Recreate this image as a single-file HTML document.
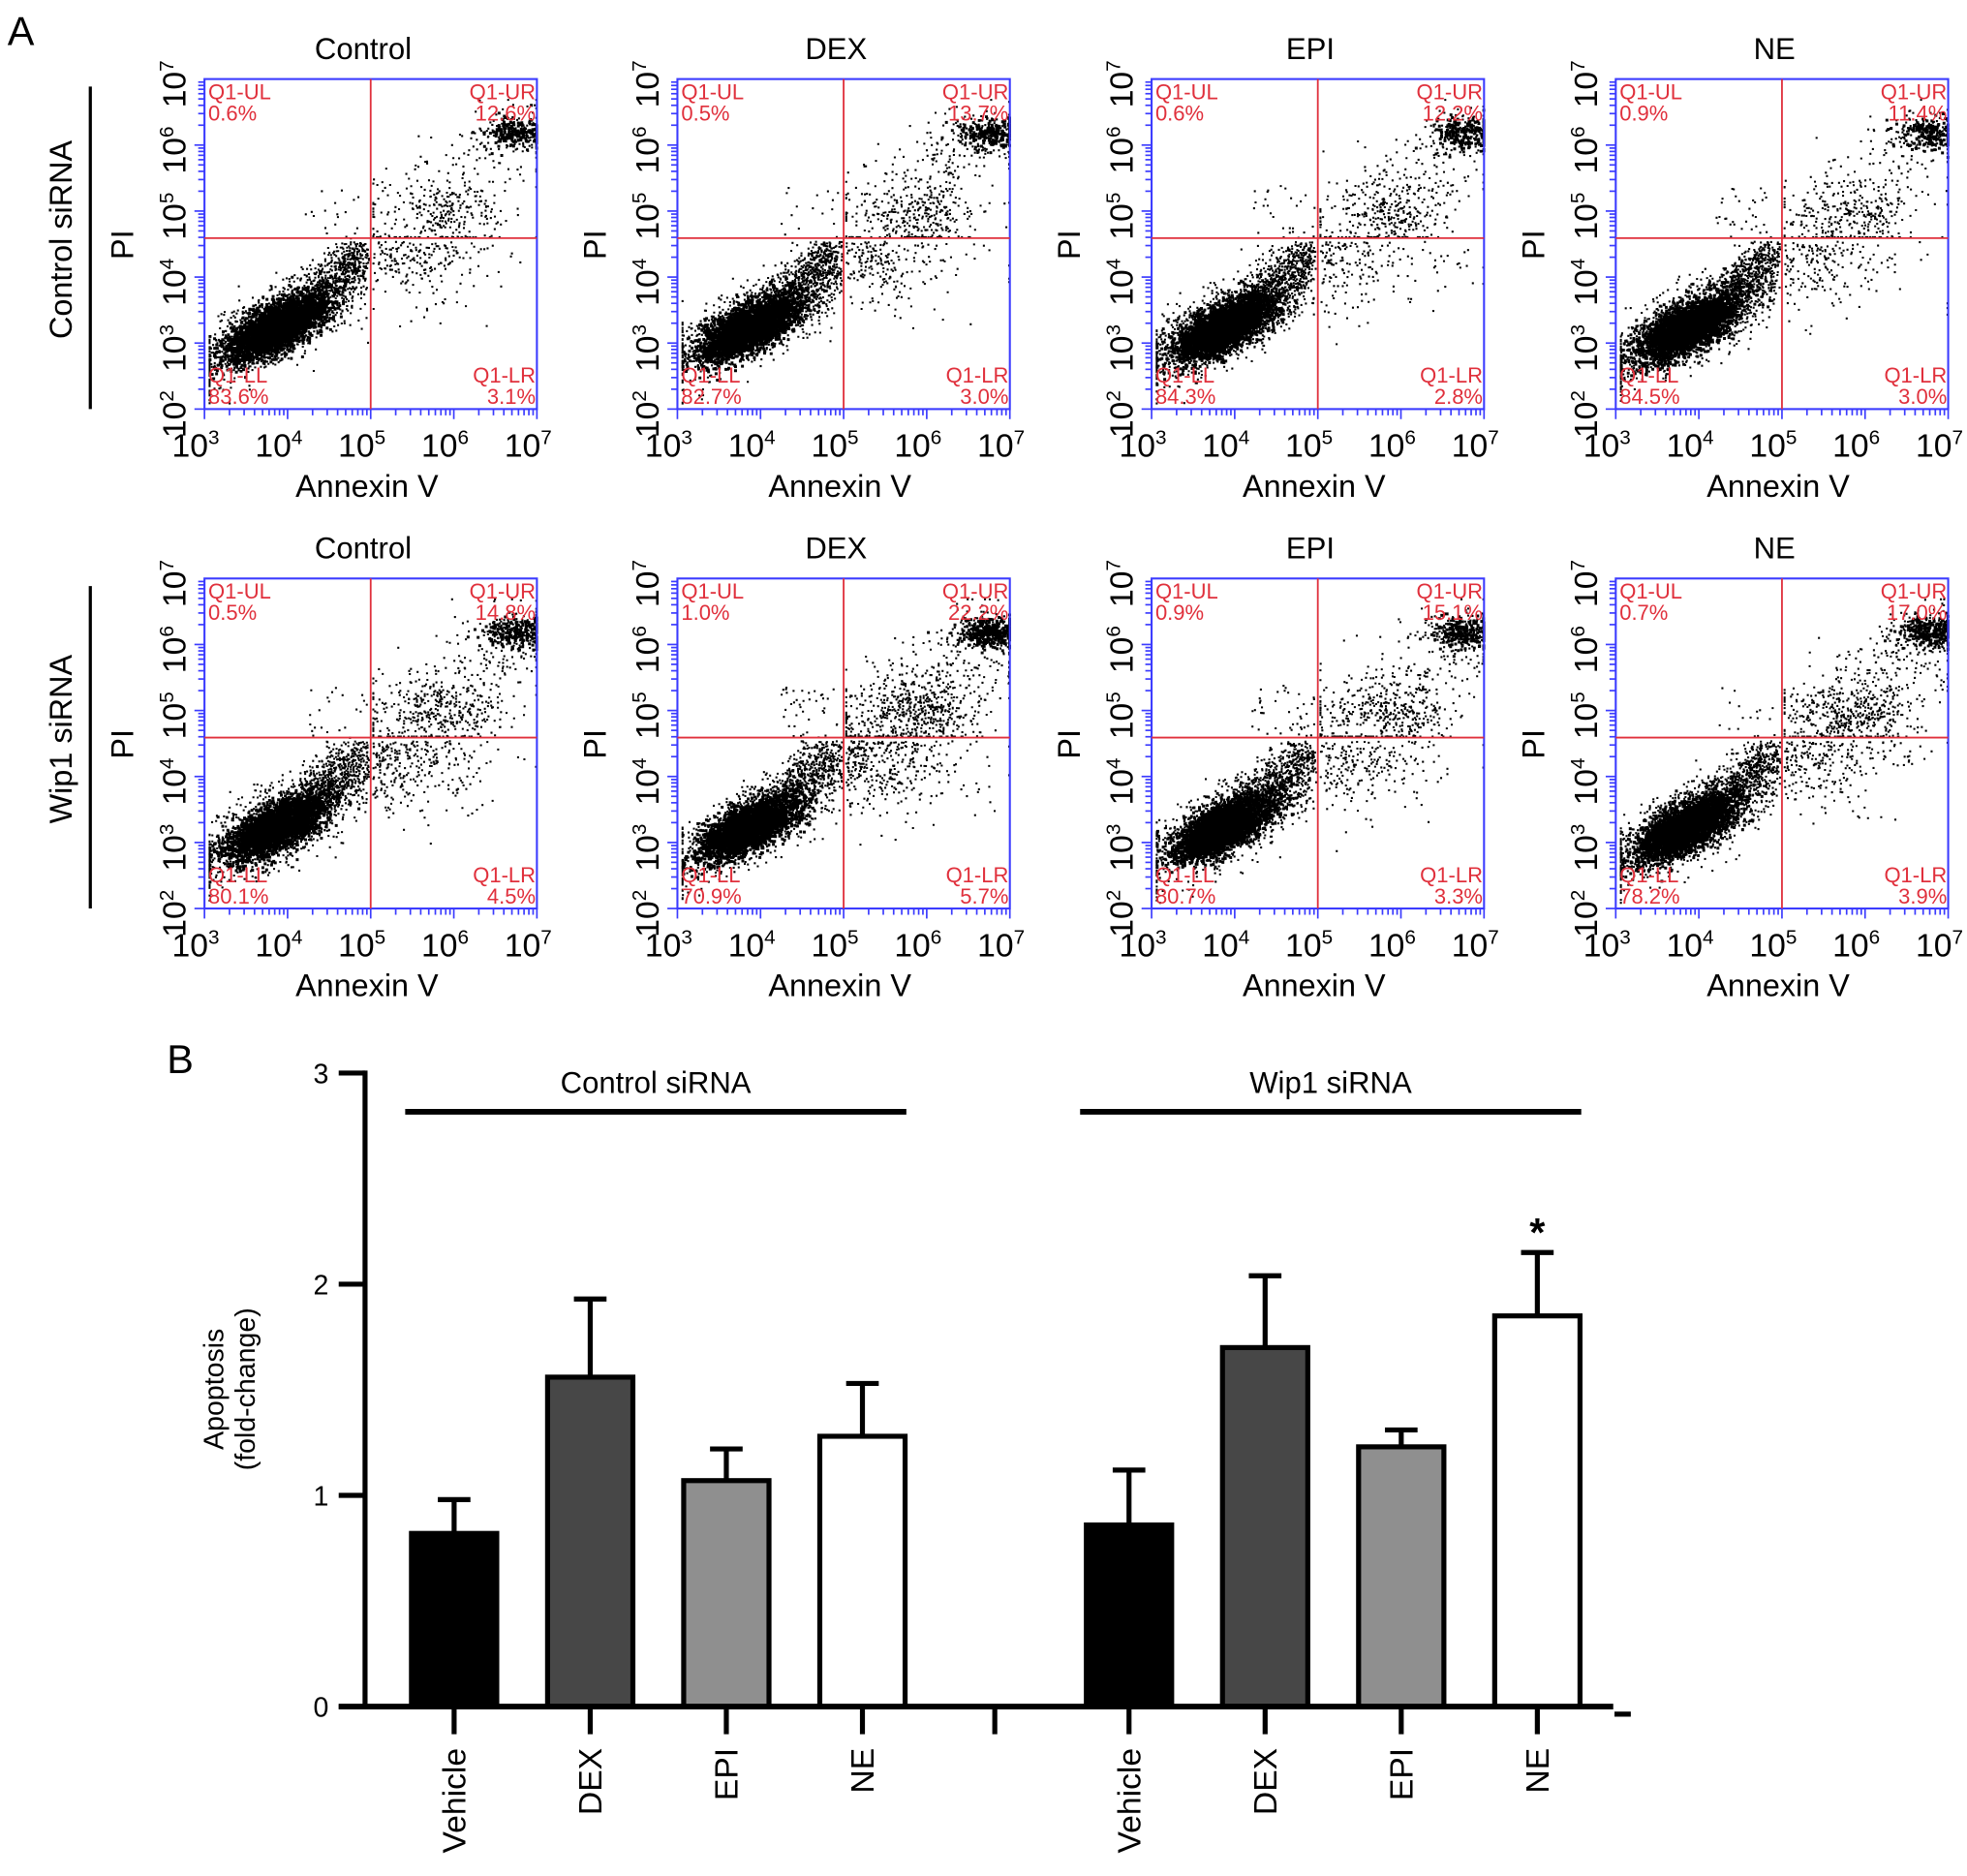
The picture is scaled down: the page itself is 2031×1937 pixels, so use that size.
<!DOCTYPE html>
<html><head><meta charset="utf-8">
<style>
html,body{margin:0;padding:0;background:#fff;}
svg{display:block;font-family:"Liberation Sans",Arial,sans-serif;}
</style></head>
<body>
<svg id="fig" width="2031" height="1937" viewBox="0 0 1568 1495" preserveAspectRatio="none" xmlns="http://www.w3.org/2000/svg">
<rect width="1568" height="1495" fill="#fff"/>
<text x="6" y="36" font-size="32">A</text>
<text x="133" y="855" font-size="32">B</text>
<g id="flow"></g>
<g id="bars"></g>
</svg>
<script>
// ---------- Panel A data ----------
const flowTitles = ["Control","DEX","EPI","NE"];
const rowLabels = ["Control siRNA","Wip1 siRNA"];
const pctUL = [[0.6,0.5,0.6,0.9],[0.5,1.0,0.9,0.7]];
const pctUR = [[12.6,13.7,12.2,11.4],[14.8,22.2,15.1,17.0]];
const pctLL = [[83.6,82.7,84.3,84.5],[80.1,70.9,80.7,78.2]];
const pctLR = [[3.1,3.0,2.8,3.0],[4.5,5.7,3.3,3.9]];
const xDecades = [3,4,5,6,7];
const yDecades = [2,3,4,5,6,7];
const gateX = 5, gateY = 4.59;

// ---------- Panel B data ----------
const categories = ["Vehicle","DEX","EPI","NE"];
const groups = ["Control siRNA","Wip1 siRNA"];
const meansControl = [0.82,1.56,1.07,1.28];
const errControl = [0.16,0.37,0.15,0.25];
const meansWip1 = [0.86,1.70,1.23,1.85];
const errWip1 = [0.26,0.34,0.08,0.30];
const yTicks = [0,1,2,3];
const barFills = ["#000000","#474747","#8f8f8f","#ffffff"];

const NS = "http://www.w3.org/2000/svg";
function mk(tag, attrs, parent){const e=document.createElementNS(NS,tag);for(const k in attrs)e.setAttribute(k,attrs[k]);parent.appendChild(e);return e;}

let seed = 12345;
function rnd(){seed|=0;seed=seed+0x6D2B79F5|0;let t=Math.imul(seed^seed>>>15,1|seed);t=t+Math.imul(t^t>>>7,61|t)^t;return ((t^t>>>14)>>>0)/4294967296;}
function gauss(){let u=rnd()||1e-9,v=rnd();return Math.sqrt(-2*Math.log(u))*Math.cos(2*Math.PI*v);}

const flow = document.getElementById('flow');
const panelLeft = [163,540,918,1288], rowTop = [63,461], PW=265, PH=263;
const RED="#e0303c", BLUE="#3b3bff";

function sup(t, base, exp){
  t.appendChild(document.createTextNode(base));
  const s=document.createElementNS(NS,'tspan');s.setAttribute('dy','-10');s.setAttribute('font-size','16');s.textContent=exp;t.appendChild(s);
}

for(let r=0;r<2;r++){
  const top=rowTop[r];
  const rl=mk('text',{x:0,y:0,'font-size':25,'text-anchor':'middle',transform:`translate(57,${top+128}) rotate(-90)`},flow);
  rl.textContent=rowLabels[r];
  
  
  const ln=mk('line',{x1:72,x2:72,y1:top+6,y2:top+263,stroke:'#000','stroke-width':2.5},flow);
  
  
  for(let c=0;c<4;c++){
    const L=panelLeft[c];
    const g=mk('g',{},flow);
    
    
    const X=lx=>L+(lx-3)/4*PW, Y=ly=>top+PH-(ly-2)/5*PH;
    const t=mk('text',{x:L+PW/2-6,y:top-16,'font-size':24,'text-anchor':'middle'},g);t.textContent=flowTitles[c];
    
    
    const N=6000;
    let d="", dCore="";
    const pL=pctLL[r][c],pR=pctLR[r][c],pU=pctUR[r][c];
    for(let i=0;i<N;i++){
      const u=rnd()*100;let lx,ly,core=false;
      if(u<pL){
        const k=rnd();
        if(k<0.6){const a=gauss()*0.33,b=gauss()*0.14;lx=3.85+a*0.8+b*0.6;ly=3.25+a*0.6-b*0.8;core=true;}
        else if(k<0.9){const a=gauss()*0.55,b=gauss()*0.22;lx=3.9+a*0.8+b*0.6;ly=3.3+a*0.6-b*0.8;}
        else{const s=rnd();lx=4.3+s*0.6+gauss()*0.15;ly=3.7+s*0.7+gauss()*0.18;}
        if(lx>4.97)lx=4.97-rnd()*0.3; if(ly>4.55)ly=4.55-rnd()*0.3;
      } else if(u<pL+pR){lx=5.02+Math.abs(gauss())*0.7;ly=4.55-Math.abs(gauss())*0.5;}
      else if(u<pL+pR+pU){
        const k=rnd();
        if(k<0.4){lx=6.75+gauss()*0.2;ly=6.2+gauss()*0.12;core=rnd()<0.5;}
        else if(k<0.7){lx=5.9+gauss()*0.35;ly=4.95+gauss()*0.25;}
        else{const s=rnd();lx=5+s*1.9+gauss()*0.3;ly=4.6+s*1.6+gauss()*0.35;}
        lx=Math.max(5.02,Math.min(lx,6.98));ly=Math.max(4.62,Math.min(ly,6.7));
      } else {if(rnd()<0.5)continue;lx=4.2+rnd()*0.75;ly=4.6+rnd()*0.8;}
      lx=Math.max(3.05,Math.min(6.98,lx));ly=Math.max(2.1,Math.min(6.95,ly));
      if(core) dCore+=`M${X(lx).toFixed(1)} ${Y(ly).toFixed(1)}h2.3v2.3h-2.3z`;
      else d+=`M${X(lx).toFixed(1)} ${Y(ly).toFixed(1)}h1.6v1.6h-1.6z`;
    }
    const dots=mk('path',{d:d,fill:'#000'},g);
    
    
    const dots2=mk('path',{d:dCore,fill:'#000'},g);
    
    
    mk('rect',{x:L,y:top,width:PW,height:PH,fill:'none',stroke:BLUE,'stroke-width':1.6},g);
    for(let dcd=3;dcd<7;dcd++)for(let m=1;m<10;m++){const x=X(dcd+Math.log10(m));mk('line',{x1:x,x2:x,y1:top+PH,y2:top+PH+(m==1?8:5),stroke:BLUE,'stroke-width':1.3},g);}
    mk('line',{x1:X(7),x2:X(7),y1:top+PH,y2:top+PH+8,stroke:BLUE,'stroke-width':1.3},g);
    for(let dcd=2;dcd<7;dcd++)for(let m=1;m<10;m++){const y=Y(dcd+Math.log10(m));mk('line',{x1:L,x2:L-(m==1?8:5),y1:y,y2:y,stroke:BLUE,'stroke-width':1.3},g);}
    mk('line',{x1:X(gateX),x2:X(gateX),y1:top,y2:top+PH,stroke:RED,'stroke-width':1.4},g);
    mk('line',{x1:L,x2:L+PW,y1:Y(gateY),y2:Y(gateY),stroke:RED,'stroke-width':1.4},g);
    const ql=[["Q1-UL",pctUL[r][c],L+3,top+16,'start'],["Q1-UR",pctUR[r][c],L+PW-1,top+16,'end'],["Q1-LL",pctLL[r][c],L+3,top+242,'start'],["Q1-LR",pctLR[r][c],L+PW-1,top+242,'end']];
    ql.forEach(q=>{
      const a=mk('text',{x:q[2],y:q[3],'font-size':17,fill:RED,'text-anchor':q[4]},g);a.textContent=q[0];
      
      
      const b=mk('text',{x:q[2],y:q[3]+17,'font-size':17,fill:RED,'text-anchor':q[4]},g);b.textContent=q[1].toFixed(1)+"%";
      
      
    });
    xDecades.forEach(dc=>{const tt=mk('text',{x:X(dc)-7,y:top+PH+38,'font-size':26,'text-anchor':'middle'},g);sup(tt,"10",String(dc));
      
      });
    yDecades.forEach(dc=>{const tt=mk('text',{x:0,y:0,'font-size':26,'text-anchor':'middle',transform:`translate(${L-15},${Y(dc)+4}) rotate(-90)`},g);sup(tt,"10",String(dc));
      
      });
    const xt=mk('text',{x:L+PW/2-3,y:top+PH+70,'font-size':25,'text-anchor':'middle'},g);xt.textContent="Annexin V";
    
    
    const yt=mk('text',{x:0,y:0,'font-size':25,'text-anchor':'middle',transform:`translate(${L-57},${top+132}) rotate(-90)`},g);yt.textContent="PI";
    
    
  }
}

// ---------- Bar chart ----------
const bars=document.getElementById('bars');
const y0=1360, unit=168.3;
const Yb=v=>y0-v*unit;
const groupStart=[328,866], step=108.5, bw=68;
const Xc=(gi,ci)=>groupStart[gi]+ci*step+bw/2;
const ya=mk('line',{x1:291,x2:291,y1:Yb(3)-2,y2:y0,stroke:'#000','stroke-width':4},bars);


yTicks.forEach(v=>{
  mk('line',{x1:270,x2:291,y1:Yb(v),y2:Yb(v),stroke:'#000','stroke-width':4},bars);
  const t=mk('text',{x:262,y:Yb(v)+8,'font-size':22,'text-anchor':'end'},bars);t.textContent=v;
  
  
});
const yl=mk('text',{x:0,y:0,'font-size':22,'text-anchor':'middle',transform:'translate(178,1107) rotate(-90)'},bars);
yl.textContent="Apoptosis";


const yl2=mk('text',{x:0,y:0,'font-size':22,'text-anchor':'middle',transform:'translate(203,1107) rotate(-90)'},bars);
yl2.textContent="(fold-change)";


const allMeans=[meansControl,meansWip1], allErr=[errControl,errWip1];
for(let gi=0;gi<2;gi++){
  for(let ci=0;ci<4;ci++){
    const cx=Xc(gi,ci), m=allMeans[gi][ci], e=allErr[gi][ci];
    const el=mk('line',{x1:cx,x2:cx,y1:Yb(m+e),y2:Yb(m),stroke:'#000','stroke-width':4},bars);
    
    
    mk('line',{x1:cx-13,x2:cx+13,y1:Yb(m+e),y2:Yb(m+e),stroke:'#000','stroke-width':4},bars);
    const b=mk('rect',{x:cx-bw/2,y:Yb(m),width:bw,height:y0-Yb(m),fill:barFills[ci],stroke:'#000','stroke-width':4},bars);
    
    
    mk('line',{x1:cx,x2:cx,y1:y0,y2:y0+22,stroke:'#000','stroke-width':4},bars);
    const lab=mk('text',{x:0,y:0,'font-size':26,'text-anchor':'end',transform:`translate(${cx+9},${y0+33}) rotate(-90)`},bars);
    lab.textContent=categories[ci];
    
    
  }
  const x1=groupStart[gi]-5, x2=groupStart[gi]+3*step+bw+1;
  const gl=mk('line',{x1:x1,x2:x2,y1:886,y2:886,stroke:'#000','stroke-width':4.5},bars);
  
  
  const gt=mk('text',{x:(x1+x2)/2,y:871,'font-size':24,'text-anchor':'middle'},bars);
  gt.textContent=groups[gi];
  
  
}
mk('line',{x1:793,x2:793,y1:y0,y2:y0+22,stroke:'#000','stroke-width':4},bars);
const base=mk('line',{x1:270,x2:1286,y1:y0,y2:y0,stroke:'#000','stroke-width':4.5},bars);


mk('line',{x1:1287,x2:1300,y1:1366,y2:1366,stroke:'#000','stroke-width':4},bars);
const star=mk('text',{x:Xc(1,3),y:Yb(meansWip1[3]+errWip1[3])-5,'font-size':32,'font-weight':'bold','text-anchor':'middle'},bars);
star.textContent="*";


</script>
</body></html>
